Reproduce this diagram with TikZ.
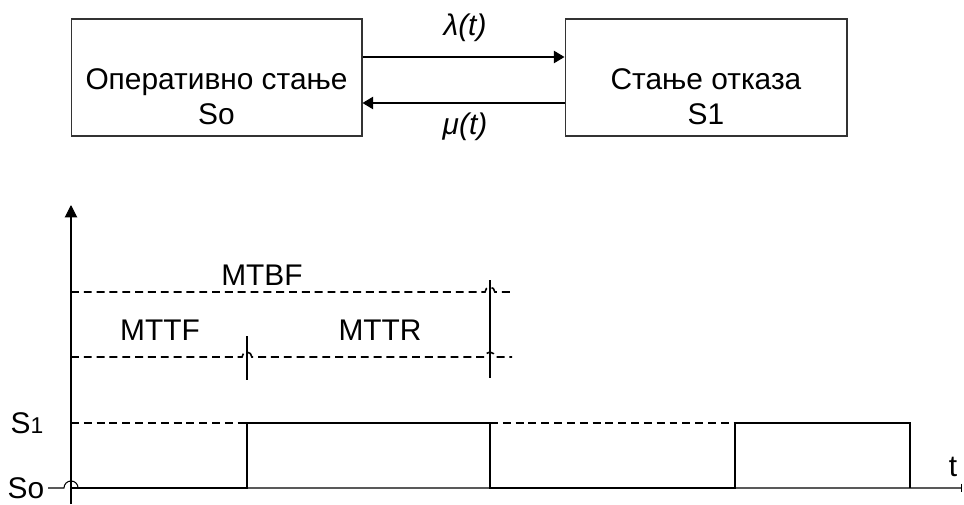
\documentclass[tikz,border=0pt]{standalone}
\usepackage{fontspec}
\setmainfont{Liberation Sans}
\usetikzlibrary{arrows.meta,calc}
\tikzset{
  stbox/.style={draw=black!80, line width=0.6pt, minimum height=2.34cm, inner sep=0pt},
  lbl/.style={font=\fontsize{17}{19.8}\selectfont, align=center, inner sep=0pt},
  arr/.style={line width=0.6pt, -{Triangle[length=6pt,width=7pt]}},
  dsh/.style={line width=0.9pt, dash pattern=on 4.5pt off 2.8pt},
  sig/.style={line width=0.9pt},
  axis/.style={line width=0.6pt}
}
\begin{document}
\begin{tikzpicture}[x=0.02cm,y=-0.02cm]
\useasboundingbox (0,0) rectangle (964,504);
\node[stbox, minimum width=5.82cm] (op) at (216.5,77.5) {};
\node[stbox, minimum width=5.64cm] (ot) at (706,77.5) {};
\node[lbl] (optxt) at (216.5,97) {Оперативно стање\\So};
\node[lbl] (ottxt) at (706,97) {Стање отказа\\S1};
\draw[arr] ($(op.east)+(0,-20.5)$) -- ($(ot.west)+(0,-20.5)$);
\draw[arr] ($(ot.west)+(0,25.5)$) -- ($(op.east)+(0,25.5)$);
\node[lbl] (lam) at (465,28) {\textit{λ(t)}};
\node[lbl] (mu) at (465,127) {\textit{μ(t)}};
\coordinate (ybot) at (71,504);
\coordinate (ytop) at (71,205);
\draw[axis, -{Triangle[length=7pt,width=7pt]}] (ybot) -- (ytop);
\node[lbl] (so) at (26,488) {So};
\node[lbl] (sone) at (27,423) {S{\fontsize{13}{13}\selectfont 1}};
\node[lbl] (tlbl) at (953,467) {t};
\coordinate (xend) at (962,488);
\draw[axis, -{Bar[width=5pt]}] ([xshift=2pt]so.east) -- (64,488) arc[start angle=180,end angle=0,radius=4pt] -- (xend);
\draw[sig] (71,488) -- (247,488) -- (247,423) -- (490,423) -- (490,488) -- (735,488) -- (735,423) -- (910,423) -- (910,488);
\draw[dsh] (71,423) -- (247,423);
\draw[dsh] (490,423) -- (735,423);
\draw[dsh] (71,292) -- (485,292) arc[start angle=180,end angle=0,radius=2.8pt] -- (512,292);
\draw[dsh] (71,357) -- (242,357) arc[start angle=180,end angle=0,radius=2.8pt] -- (485,357) arc[start angle=180,end angle=0,radius=2.8pt] -- (512,357);
\draw[sig] (247,336) -- (247,380);
\draw[sig] (490,280) -- (490,378);
\node[lbl] (mtbf) at (262,275) {MTBF};
\node[lbl] (mttf) at (160,330) {MTTF};
\node[lbl] (mttr) at (380,330) {MTTR};
\end{tikzpicture}
\end{document}
